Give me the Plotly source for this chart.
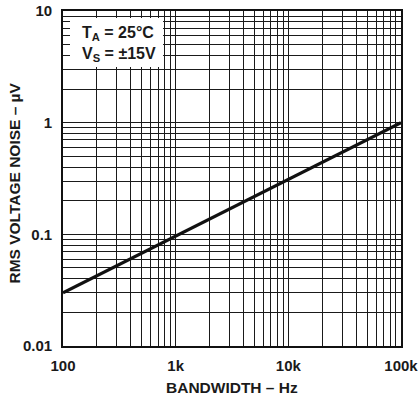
import plotly.graph_objects as go

# Data
bandwidth_hz = [100, 100000]
rms_noise_uv = [0.03, 1.0]

x_major = [100, 1000, 10000, 100000]
x_major_labels = ["100", "1k", "10k", "100k"]
y_major = [0.01, 0.1, 1, 10]
y_major_labels = ["0.01", "0.1", "1", "10"]
minor_multipliers = [2, 3, 4, 5, 6, 7, 8, 9]

def minor_ticks(majors):
    vals = []
    for m in majors[:-1]:
        for k in minor_multipliers:
            vals.append(m * k)
    return vals

FONT = "Liberation Sans, Arial, Helvetica, sans-serif"
GRID = "#1a1a1a"

fig = go.Figure()
fig.add_trace(go.Scatter(x=bandwidth_hz, y=rms_noise_uv, mode="lines",
                         line=dict(color="#111111", width=3.2), showlegend=False,
                         hoverinfo="skip"))

axis_common = dict(
    showgrid=True, gridcolor=GRID, gridwidth=1.4,
    showline=True, linecolor="#111111", linewidth=1.6, mirror=True,
    ticks="", zeroline=False,
    tickfont=dict(family=FONT, size=15, color="#1a1a1a", weight="bold"),
)

fig.update_xaxes(type="log", range=[2, 5], tickmode="array", tickvals=x_major,
                 ticktext=x_major_labels, ticklabelstandoff=5,
                 minor=dict(tickmode="array", tickvals=minor_ticks(x_major),
                            showgrid=True, gridcolor=GRID, gridwidth=1.2, ticks=""),
                 **axis_common)
fig.update_yaxes(type="log", range=[-2, 1], tickmode="array", tickvals=y_major,
                 ticktext=y_major_labels, ticklabelstandoff=6,
                 minor=dict(tickmode="array", tickvals=minor_ticks(y_major),
                            showgrid=True, gridcolor=GRID, gridwidth=1.2, ticks=""),
                 **axis_common)

# White legend box covering grid at top-left
fig.add_shape(type="rect", xref="paper", yref="paper",
              x0=0.0207, x1=0.296, y0=0.833, y1=0.979,
              fillcolor="white", line=dict(width=0), layer="above")

fig.add_annotation(xref="paper", yref="paper", x=0.050, y=0.968,
                   xanchor="left", yanchor="top", align="left", showarrow=False,
                   text="T<sub>A</sub> = 25°C<br>V<sub>S</sub> = ±15V",
                   font=dict(family=FONT, size=16, color="#1a1a1a", weight="bold"))

# Axis titles
fig.add_annotation(xref="paper", yref="paper", x=0.5, y=-0.092,
                   xanchor="center", yanchor="top", showarrow=False,
                   text="BANDWIDTH – Hz",
                   font=dict(family=FONT, size=15.5, color="#1a1a1a", weight="bold"))
fig.add_annotation(xref="paper", yref="paper", x=-0.142, y=0.485,
                   xanchor="center", yanchor="middle", showarrow=False, textangle=-90,
                   text="RMS VOLTAGE NOISE – µV",
                   font=dict(family=FONT, size=15.5, color="#1a1a1a", weight="bold"))

fig.update_layout(
    width=419, height=399,
    margin=dict(l=63, r=18, t=11, b=53, autoexpand=False),
    paper_bgcolor="white", plot_bgcolor="white",
)

fig.write_html("out.html")
